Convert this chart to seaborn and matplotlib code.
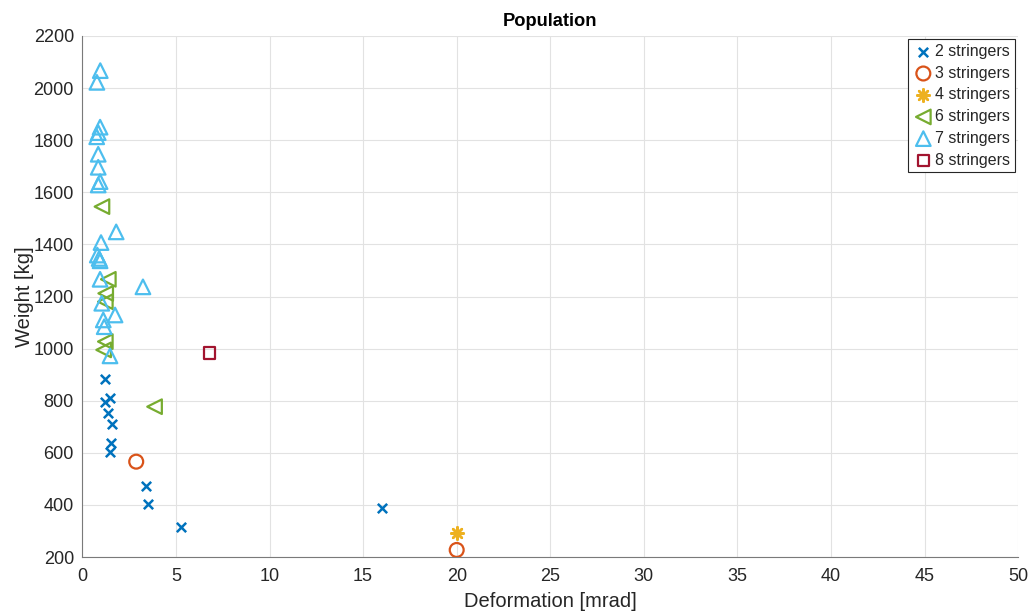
import matplotlib
matplotlib.use("Agg")
import matplotlib.pyplot as plt
import seaborn as sns
import pandas as pd

# ---- data ----
x2 = [1.23, 1.49, 1.23, 1.35, 1.58, 1.53, 1.46, 3.40, 3.50, 5.28, 16.0]
y2 = [883, 809, 796, 754, 709, 639, 604, 474, 403, 316, 388]

x3 = [2.88, 20.0]
y3 = [566, 227]

x4 = [20.0]
y4 = [292]

x6 = [1.05, 1.39, 1.25, 1.23, 1.23, 1.14, 3.86]
y6 = [1545, 1266, 1212, 1180, 1027, 995, 777]

x7 = [0.96, 0.78, 0.95, 0.85, 0.77, 0.85, 0.85, 0.95, 0.85, 1.81, 1.00,
      0.80, 0.90, 0.95, 0.95, 3.24, 1.04, 1.75, 1.12, 1.17, 1.48]
y7 = [2067, 2022, 1850, 1829, 1813, 1746, 1696, 1641, 1628, 1448, 1407,
      1359, 1346, 1337, 1266, 1237, 1174, 1129, 1110, 1084, 972]

x8 = [6.79]
y8 = [984]

labels = ["2 stringers", "3 stringers", "4 stringers", "6 stringers", "7 stringers", "8 stringers"]
xticks = [0, 5, 10, 15, 20, 25, 30, 35, 40, 45, 50]
yticks = [200, 400, 600, 800, 1000, 1200, 1400, 1600, 1800, 2000, 2200]

colors = ["#0072BD", "#D95319", "#EDB120", "#77AC30", "#4DBEEE", "#A2142F"]
markers = ["x", "o", (8, 2, 0), "<", "^", "s"]
sizes = [45, 100, 80, 110, 110, 70]
line_art = [True, False, True, False, False, False]

series = [(x2, y2), (x3, y3), (x4, y4), (x6, y6), (x7, y7), (x8, y8)]

sns.set_style("white")
plt.rcParams["font.family"] = ["Liberation Sans", "DejaVu Sans"]

fig = plt.figure(figsize=(10.32, 6.15), dpi=100)
ax = fig.add_axes([82.3 / 1032, 1 - 557 / 615, (1018.3 - 82.3) / 1032, (557 - 36) / 615])

for (xs, ys), lab, c, m, s, la in zip(series, labels, colors, markers, sizes, line_art):
    df = pd.DataFrame({"x": xs, "y": ys})
    if la:
        sns.scatterplot(data=df, x="x", y="y", ax=ax, marker=m, s=s, color=c,
                        edgecolor=c, linewidth=1.8, label=lab, zorder=3)
    else:
        sns.scatterplot(data=df, x="x", y="y", ax=ax, marker=m, s=s,
                        facecolors="none", edgecolor=c, linewidth=1.6, label=lab, zorder=3)

ax.set_xlim(0, 50)
ax.set_ylim(200, 2200)
ax.set_xticks(xticks)
ax.set_yticks(yticks)
ax.grid(True, color="#e2e2e2", linewidth=0.8)
ax.set_axisbelow(True)
for side in ["top", "right"]:
    ax.spines[side].set_visible(False)
for side in ["left", "bottom"]:
    ax.spines[side].set_color("#7a7a7a")
    ax.spines[side].set_linewidth(0.8)
ax.tick_params(direction="in", length=6, width=0.8, color="#262626",
               labelsize=13, labelcolor="#262626", pad=6)
ax.tick_params(axis="x", pad=8)
ax.set_xlabel("Deformation [mrad]", fontsize=14.5, color="#262626", labelpad=5)
ax.set_ylabel("Weight [kg]", fontsize=14.5, color="#262626", labelpad=0)
ax.set_title("Population", fontsize=13.2, fontweight="bold", color="#000000", pad=7)

leg = ax.legend(loc="upper right", frameon=True, fancybox=False, fontsize=11.5,
                borderaxespad=0.2, handletextpad=0.1, labelspacing=0.42,
                borderpad=0.3, handlelength=1.3)
leg.get_frame().set_edgecolor("#262626")
leg.get_frame().set_linewidth(0.8)
leg.get_frame().set_alpha(1)

fig.savefig("out.png", dpi=100)
